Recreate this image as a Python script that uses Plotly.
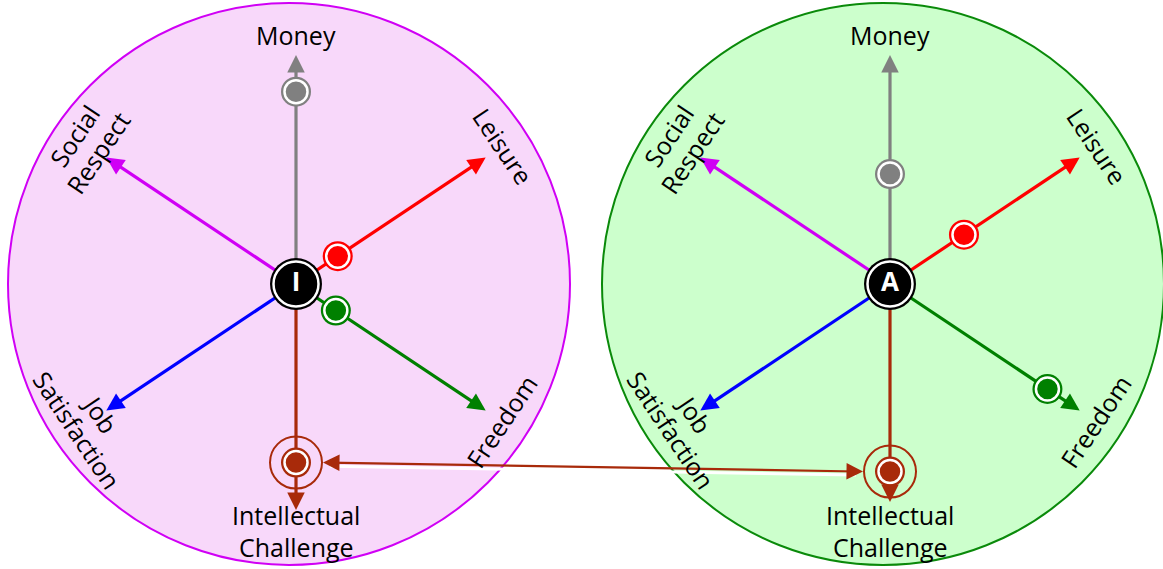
import math
import plotly.graph_objects as go

# ---- data ----
axis_names = ["Money", "Leisure", "Freedom", "Intellectual<br>Challenge", "Job<br>Satisfaction", "Social<br>Respect"]
axis_colors = ["#808080", "#ff0000", "#008000", "#a82a0a", "#0000ff", "#d000f5"]
axis_angles = [90, 33.7, -33.7, -90, -146.3, 146.3]      # degrees (math convention)
label_angles = [0, 56.3, -56.3, 0, 56.3, -56.3]
profiles = ["I", "A"]
values_I = [0.84, 0.22, 0.21, 0.79, None, None]
values_A = [0.48, 0.39, 0.83, 0.83, None, None]
profile_values = [values_I, values_A]
circle_fills = ["#f8d8fa", "#ccffcc"]
circle_lines = ["#d000f5", "#0a8a0a"]

# ---- layout constants ----
W, H = 1163, 569
hubs = [(296, 284), (890, 284)]
circle_offset = -7
circle_r = 281
axis_len = [229, 228, 228, 226, 228, 228]
label_r = [249, 249, 247, 247, 249, 252]
line_gap = [0, 0, 0, 32, 28, 29]
ring_idx = 3

fig = go.Figure()
shapes = []
annotations = []

def pt(hub, ang, d):
    a = math.radians(ang)
    return hub[0] + d * math.cos(a), hub[1] - d * math.sin(a)

for p, hub in enumerate(hubs):
    cx, cy = hub[0] + circle_offset, hub[1]
    shapes.append(dict(type="circle", xref="x", yref="y", layer="below",
                       x0=cx - circle_r, x1=cx + circle_r, y0=cy - circle_r, y1=cy + circle_r,
                       fillcolor=circle_fills[p], line=dict(color=circle_lines[p], width=2)))

# axis lines, arrowheads, labels
for p, hub in enumerate(hubs):
    for i, ang in enumerate(axis_angles):
        L = axis_len[i] - (8 if (p == 1 and i == ring_idx) else 0)
        x1, y1 = pt(hub, ang, L - 6)
        fig.add_trace(go.Scatter(x=[hub[0], x1], y=[hub[1], y1], mode="lines",
                                 line=dict(color=axis_colors[i], width=3.2), hoverinfo="skip"))
        tx, ty = pt(hub, ang, L)
        bx, by = pt(hub, ang, L - 16)
        annotations.append(dict(x=tx, y=ty, ax=bx, ay=by, xref="x", yref="y", axref="x", ayref="y",
                                text="", showarrow=True, arrowhead=2, arrowsize=1.35, arrowwidth=2.6,
                                arrowcolor=axis_colors[i], standoff=0))
        lx, ly = pt(hub, ang, label_r[i])
        lines = axis_names[i].split("<br>")
        th = math.radians(label_angles[i])
        dvx, dvy = -math.sin(th), math.cos(th)   # "down" direction of rotated text
        n = len(lines)
        for k, txt in enumerate(lines):
            off = (k - (n - 1) / 2) * line_gap[i]
            annotations.append(dict(x=lx + off * dvx, y=ly + off * dvy, xref="x", yref="y", text=txt,
                                    showarrow=False, textangle=label_angles[i],
                                    font=dict(family="Open Sans", size=25, color="black"),
                                    xanchor="center", yanchor="middle"))

# comparison double arrow between Intellectual Challenge values
ring_pts = []
for p, hub in enumerate(hubs):
    v = profile_values[p][ring_idx]
    ring_pts.append(pt(hub, axis_angles[ring_idx], v * axis_len[ring_idx]))
ring_r = 26
(xa, ya), (xb, yb) = ring_pts
slope = (yb - ya) / (xb - xa)
fig.add_trace(go.Scatter(x=[xa + ring_r + 8, xb - ring_r - 8], y=[ya + 3.5 + 8 * slope, yb + 3.5 - 8 * slope],
                         mode="lines", line=dict(color="white", width=3), hoverinfo="skip"))
fig.add_trace(go.Scatter(x=[xa + ring_r + 6, xb - ring_r - 6], y=[ya + 6 * slope, yb - 6 * slope], mode="lines",
                         line=dict(color=axis_colors[ring_idx], width=2.2), hoverinfo="skip"))
annotations.append(dict(x=xa + ring_r + 1, y=ya + slope, ax=xa + ring_r + 18, ay=ya + 18 * slope,
                        xref="x", yref="y", axref="x", ayref="y", text="", showarrow=True, arrowhead=2,
                        arrowsize=1.5, arrowwidth=2.2, arrowcolor=axis_colors[ring_idx], standoff=0))
annotations.append(dict(x=xb - ring_r - 1, y=yb - slope, ax=xb - ring_r - 18, ay=yb - 18 * slope,
                        xref="x", yref="y", axref="x", ayref="y", text="", showarrow=True, arrowhead=2,
                        arrowsize=1.5, arrowwidth=2.2, arrowcolor=axis_colors[ring_idx], standoff=0))
fig.add_trace(go.Scatter(x=[xa, xb], y=[ya, yb], mode="markers",
                         marker=dict(symbol="circle-open", size=2 * ring_r, color=axis_colors[ring_idx],
                                     line=dict(width=2)), hoverinfo="skip"))

# value dots
for p, hub in enumerate(hubs):
    xs, ys, cs = [], [], []
    for i, v in enumerate(profile_values[p]):
        if v is None:
            continue
        x, y = pt(hub, axis_angles[i], v * axis_len[i])
        xs.append(x); ys.append(y); cs.append(axis_colors[i])
    fig.add_trace(go.Scatter(x=xs, y=ys, mode="markers", marker=dict(size=30, color=cs, line=dict(width=0)),
                             hoverinfo="skip"))
    fig.add_trace(go.Scatter(x=xs, y=ys, mode="markers",
                             marker=dict(size=23, color=cs, line=dict(width=2.5, color="white")),
                             hoverinfo="skip"))

# hubs
hx = [h[0] for h in hubs]
hy = [h[1] for h in hubs]
fig.add_trace(go.Scatter(x=hx, y=hy, mode="markers", marker=dict(size=52, color="black"), hoverinfo="skip"))
fig.add_trace(go.Scatter(x=hx, y=hy, mode="markers+text", text=profiles, textposition="middle center",
                         textfont=dict(family="Open Sans", size=26, color="white", weight="bold"),
                         marker=dict(size=45, color="black", line=dict(width=2.5, color="white")),
                         hoverinfo="skip"))

fig.update_layout(width=W, height=H, margin=dict(l=0, r=0, t=0, b=0), showlegend=False,
                  plot_bgcolor="white", paper_bgcolor="white", shapes=shapes, annotations=annotations,
                  xaxis=dict(range=[0, W], visible=False, fixedrange=True),
                  yaxis=dict(range=[H, 0], visible=False, fixedrange=True))
fig.write_html("out.html", config={"displayModeBar": False},
               post_script="document.body.style.margin='0';document.body.style.overflow='hidden';")
